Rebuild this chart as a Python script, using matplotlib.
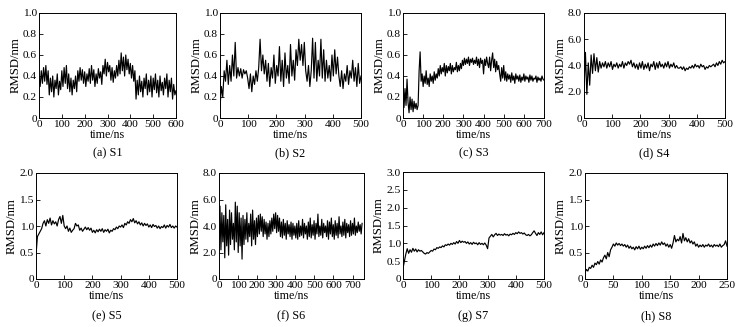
import matplotlib
matplotlib.use("Agg")
import matplotlib.pyplot as plt
import numpy as np

plt.rcParams['font.family'] = ['Liberation Serif', 'DejaVu Serif']
plt.rcParams['font.size'] = 8.2

# RMSD traces (nm), evenly spaced over each run
s1 = [0.38,0.30,0.45,0.33,0.48,0.35,0.50,0.32,0.45,
      0.22,0.38,0.25,0.40,0.20,0.36,0.28,0.42,0.22,0.35,0.27,0.45,
      0.30,0.48,0.33,0.50,0.28,0.42,
      0.25,0.38,0.22,0.36,0.28,0.40,0.25,0.45,0.35,
      0.48,0.36,0.46,0.33,0.44,0.30,0.42,0.35,0.47,
      0.33,0.50,0.36,0.46,0.30,0.42,0.33,0.47,0.38,0.44,0.32,
      0.50,0.42,0.56,0.40,0.53,0.44,0.50,
      0.36,0.48,0.34,0.45,0.38,0.50,0.40,0.55,
      0.42,0.62,0.45,0.58,0.40,0.60,0.46,0.56,0.42,0.52,
      0.38,0.50,0.35,0.45,
      0.18,0.36,0.22,0.40,0.25,0.35,0.20,0.38,0.28,0.42,
      0.22,0.36,0.25,0.40,0.20,0.38,0.27,0.42,0.24,0.36,0.20,0.40,0.26,
      0.34,0.22,0.38,0.28,0.42,0.20,0.36,0.25,0.38,0.18,0.32,0.22,0.26]

s2 = [0.10,0.30,0.20,0.45,0.35,
      0.55,0.32,0.50,0.35,0.60,0.40,
      0.72,0.38,
      0.48,0.40,0.47,0.38,0.46,0.42,0.45,0.38,
      0.28,0.42,0.25,0.40,0.32,0.45,0.35,0.48,
      0.75,0.45,0.60,0.42,0.55,
      0.35,0.52,0.30,0.48,0.38,0.60,0.33,0.50,0.40,0.68,0.35,0.55,0.30,
      0.62,0.38,0.50,0.33,0.70,0.40,0.55,0.36,0.65,
      0.50,0.75,0.55,0.70,0.50,0.72,0.45,
      0.35,0.50,0.30,0.45,0.76,0.38,
      0.72,0.35,0.55,0.40,0.75,0.38,
      0.65,0.35,0.55,0.38,0.50,0.35,0.60,0.40,
      0.65,0.42,0.58,0.40,
      0.30,0.45,0.28,0.42,
      0.35,0.50,0.32,0.45,0.38,0.55,0.35,0.48,0.30,0.52,0.33,0.40]

s3 = [0.35,0.10,0.28,0.12,0.37,
      0.15,0.05,0.20,0.08,0.18,0.06,0.16,0.09,0.14,0.08,0.12,
      0.45,0.63,
      0.35,0.42,0.30,0.40,0.33,0.45,0.32,0.38,0.30,0.42,0.35,0.40,0.33,
      0.44,0.36,0.42,0.38,
      0.47,0.40,0.50,0.42,0.48,0.44,0.52,0.40,0.50,0.43,0.49,0.45,0.52,
      0.42,0.50,0.44,0.48,0.46,0.53,0.44,0.50,0.45,0.52,0.47,
      0.55,0.50,0.57,0.51,0.56,0.52,0.58,0.50,0.56,0.53,0.57,0.51,0.55,
      0.52,0.58,0.50,0.56,0.48,0.57,0.52,0.55,0.42,0.56,0.50,0.58,0.52,
      0.48,0.58,0.45,0.55,0.62,0.48,0.56,0.44,0.54,0.46,0.50,0.42,
      0.35,0.48,0.38,0.50,
      0.36,0.44,0.35,0.42,0.37,0.41,0.34,0.43,0.36,0.40,0.33,0.42,0.37,
      0.40,0.35,0.41,0.34,0.39,0.36,0.42,0.35,0.40,0.37,0.39,0.34,0.41,
      0.36,0.40,0.35,0.38,0.37,0.40,0.34,0.39,0.36,0.38,0.35,0.40,0.37,0.36]

s4 = [2.0,5.0,1.8,4.2,2.5,
      4.8,3.4,4.9,3.6,4.6,3.5,
      4.3,3.8,4.2,3.9,4.3,3.8,4.2,3.9,4.3,3.7,4.1,3.9,4.2,3.8,4.1,3.9,
      4.3,3.8,4.2,4.0,4.3,4.1,
      4.4,3.9,4.2,3.8,4.1,3.7,4.2,3.8,4.3,3.7,4.1,3.8,4.2,3.6,4.1,3.9,
      4.3,3.7,4.2,3.8,4.3,3.9,4.1,3.8,4.2,3.9,4.3,3.8,4.1,3.9,4.2,3.8,
      4.0,3.8,
      3.8,3.9,3.7,3.9,3.6,3.8,3.7,3.9,3.8,4.0,3.8,4.1,3.9,4.0,3.8,4.1,
      3.9,4.0,3.7,3.9,3.8,4.0,3.9,4.0,
      4.1,3.9,4.2,4.0,4.3,4.1,4.4,4.2,4.3]

s5 = [0.45,0.80,0.85,0.90,0.95,1.05,1.10,1.00,1.12,1.05,1.15,1.02,1.10,
      1.04,1.08,1.00,1.12,1.18,1.05,1.20,1.00,0.95,1.00,0.90,0.96,0.88,
      0.92,0.95,1.05,1.00,1.02,0.92,0.96,0.90,0.94,0.98,0.93,0.97,0.92,
      0.96,0.88,0.92,0.87,0.93,0.89,0.94,0.90,0.95,0.88,0.93,0.90,0.94,
      0.87,0.92,0.90,0.95,0.93,0.98,0.95,1.00,0.98,1.02,0.97,1.05,1.02,
      1.08,1.05,1.12,1.08,1.14,1.06,1.10,1.04,1.08,1.02,1.06,1.00,1.05,
      1.01,1.04,0.98,1.02,0.97,1.03,0.99,1.01,0.96,1.00,0.95,0.99,0.97,
      1.02,0.96,1.01,0.98,1.03,0.97,1.00,0.96,1.00,0.98]

s6 = [3.0,5.5,2.2,5.0,2.8,4.8,1.6,5.6,2.5,4.5,1.8,5.2,2.6,5.0,3.0,4.2,
      2.2,5.8,2.8,5.5,2.0,5.0,2.5,4.6,1.5,
      4.8,2.6,4.5,3.0,5.0,2.8,4.2,3.2,4.9,2.5,5.2,3.0,4.4,2.6,4.6,3.2,
      4.8,3.4,4.9,3.6,4.7,3.2,4.5,3.4,4.3,3.0,
      4.2,3.2,4.4,3.4,4.6,3.6,4.9,3.8,5.0,3.5,4.8,3.6,4.6,3.2,
      4.3,3.1,4.5,3.3,4.2,3.0,4.4,3.4,4.1,3.2,4.3,3.0,4.2,3.3,4.0,3.1,
      4.2,3.0,4.4,3.2,4.0,3.3,4.5,3.1,4.2,3.4,4.0,3.0,4.3,3.2,4.6,3.1,
      4.1,3.3,4.4,3.0,4.2,3.4,4.9,3.2,4.0,3.3,4.5,3.1,4.2,3.5,4.0,3.2,
      4.4,3.0,4.3,3.4,4.6,3.2,4.1,3.0,4.4,3.3,4.2,3.1,4.7,3.4,4.0,3.2,
      4.3,3.3,4.5,3.1,4.2,3.5,4.1,3.2,4.4,3.3,4.2,3.4,4.6,3.3,4.0,3.5,
      4.3,3.6,4.1,3.4,4.2]

s7 = [0.30,0.50,0.70,0.85,0.72,0.82,0.75,0.86,0.78,0.84,0.76,0.82,0.78,
      0.80,0.76,0.72,0.70,0.74,0.72,0.76,0.80,0.78,0.84,0.82,0.88,0.86,
      0.90,0.88,0.93,0.90,0.96,0.94,0.98,0.95,1.00,0.97,1.02,0.98,1.05,
      1.00,1.08,1.02,1.06,1.03,1.05,1.00,1.04,0.98,1.02,0.97,1.03,0.99,
      1.01,0.96,1.02,0.97,1.00,0.96,1.01,0.95,0.85,1.15,1.20,1.25,1.18,
      1.24,1.28,1.22,1.26,1.23,1.25,1.22,1.27,1.23,1.25,1.21,1.26,1.24,
      1.28,1.25,1.30,1.27,1.32,1.28,1.30,1.26,1.29,1.24,1.22,1.25,1.21,
      1.24,1.30,1.35,1.28,1.22,1.30,1.25,1.32,1.24,1.30]

s8 = [0.12,0.18,0.15,0.22,0.20,0.26,0.22,0.30,0.27,0.33,0.28,0.36,0.32,
      0.40,0.45,0.38,0.50,0.42,0.55,0.60,0.66,0.62,0.68,0.64,0.67,0.63,
      0.66,0.62,0.65,0.60,0.64,0.58,0.62,0.57,0.60,0.55,0.61,0.57,0.62,
      0.56,0.60,0.57,0.62,0.58,0.63,0.59,0.64,0.60,0.66,0.62,0.67,0.63,
      0.68,0.64,0.70,0.65,0.68,0.62,0.66,0.60,0.65,0.58,0.68,0.82,0.70,
      0.75,0.72,0.80,0.68,0.86,0.72,0.78,0.70,0.76,0.68,0.72,0.66,0.70,
      0.62,0.66,0.60,0.64,0.61,0.65,0.60,0.64,0.62,0.66,0.61,0.64,0.60,
      0.65,0.62,0.64,0.61,0.66,0.60,0.63,0.65,0.72,0.62]

series = [s1, s2, s3, s4, s5, s6, s7, s8]
t_end = [600, 500, 700, 500, 500, 750, 500, 250]
captions = ["(a) S1", "(b) S2", "(c) S3", "(d) S4",
            "(e) S5", "(f) S6", "(g) S7", "(h) S8"]
xlims = [600, 500, 700, 500, 500, 760, 500, 250]
xstep = [100, 100, 100, 100, 100, 100, 100, 50]
ylims = [1.0, 1.0, 1.0, 8.0, 2.0, 8.0, 3.0, 2.0]
ystep = [0.2, 0.2, 0.2, 2.0, 0.5, 2.0, 0.5, 0.5]

# axes boxes in pixels: left, right, top, bottom
W, H = 750, 327
boxes = [(39, 176, 13, 118), (220, 361, 13, 118), (403, 544, 13, 118), (584, 725, 13, 118),
         (36, 177, 173, 279), (219, 364, 173, 279), (403, 544, 172, 279), (585, 727, 173, 279)]

def fmt(v, pos):
    if abs(v) < 1e-9:
        return "0"
    return "%.1f" % v

fig = plt.figure(figsize=(7.5, 3.27), dpi=100)
for i in range(8):
    l, r, t, b = boxes[i]
    ax = fig.add_axes([l / W, 1 - b / H, (r - l) / W, (b - t) / H])
    y = np.array(series[i])
    x = np.linspace(0, t_end[i], len(y))
    ax.plot(x, y, color='black', lw=0.85)
    ax.set_xlim(0, xlims[i])
    ax.set_ylim(0, ylims[i])
    ax.set_xticks(np.arange(0, xlims[i] + 1, xstep[i]))
    ax.set_yticks(np.arange(0, ylims[i] + 1e-6, ystep[i]))
    ax.yaxis.set_major_formatter(plt.FuncFormatter(fmt))
    ax.tick_params(direction='in', length=3, width=0.6, pad=1.5)
    for sp in ax.spines.values():
        sp.set_linewidth(0.7)
    ax.set_xlabel("time/ns", labelpad=0, fontsize=8.6)
    ax.set_ylabel("RMSD/nm", labelpad=1, fontsize=9.2)
    cy = 153 if i < 4 else 316
    fig.text((l + r) / 2 / W, 1 - cy / H, captions[i], ha='center', va='center', fontsize=8.8)

fig.savefig("out.png", dpi=100)
